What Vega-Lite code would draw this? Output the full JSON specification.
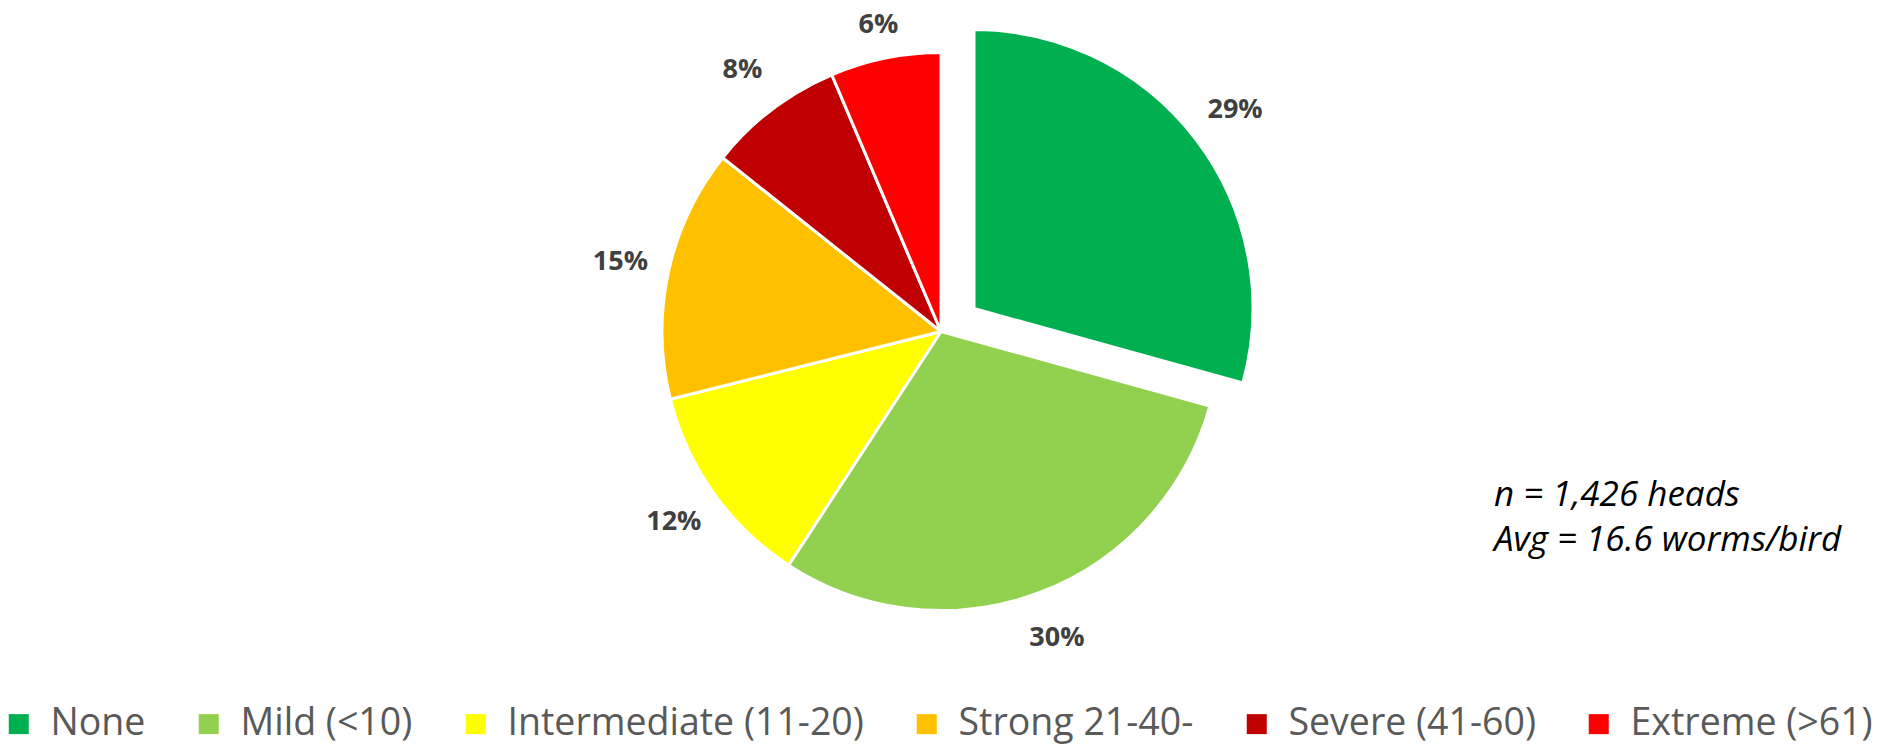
{
  "$schema": "https://vega.github.io/schema/vega-lite/v6.json",
  "width": 1903,
  "height": 745,
  "autosize": {"type": "fit", "contains": "padding"},
  "padding": {"left": 0, "right": 21, "top": 0, "bottom": 2},
  "background": "white",
  "config": {"view": {"stroke": null}, "font": "Open Sans"},
  "title": {
    "text": ["n = 1,426 heads", "Avg = 16.6 worms/bird"],
    "orient": "top",
    "anchor": "start",
    "frame": "group",
    "align": "left",
    "baseline": "alphabetic",
    "offset": 0,
    "dx": 1494,
    "dy": 613,
    "fontSize": 35,
    "fontStyle": "italic",
    "fontWeight": "normal",
    "font": "Open Sans",
    "color": "#000000",
    "lineHeight": 45
  },
  "data": {
    "values": [
      {"idx": 1, "category": "None", "share": 0.293},
      {"idx": 2, "category": "Mild (<10)", "share": 0.299},
      {"idx": 3, "category": "Intermediate (11-20)", "share": 0.119},
      {"idx": 4, "category": "Strong 21-40-", "share": 0.146},
      {"idx": 5, "category": "Severe (41-60)", "share": 0.079},
      {"idx": 6, "category": "Extreme (>61)", "share": 0.064}
    ]
  },
  "encoding": {
    "theta": {"field": "share", "type": "quantitative", "stack": true},
    "order": {"field": "idx", "type": "quantitative"},
    "color": {
      "field": "category",
      "type": "nominal",
      "sort": ["None", "Mild (<10)", "Intermediate (11-20)", "Strong 21-40-", "Severe (41-60)", "Extreme (>61)"],
      "scale": {
        "domain": ["None", "Mild (<10)", "Intermediate (11-20)", "Strong 21-40-", "Severe (41-60)", "Extreme (>61)"],
        "range": ["#00B050", "#92D050", "#FFFF00", "#FFC000", "#C00000", "#FF0000"]
      },
      "legend": {
        "orient": "bottom",
        "direction": "horizontal",
        "title": null,
        "symbolType": "square",
        "symbolSize": 400,
        "symbolStrokeWidth": 0,
        "symbolOpacity": 1,
        "labelFont": "Open Sans",
        "labelFontSize": 37.5,
        "labelColor": "#595959",
        "labelLimit": 700,
        "labelOffset": 13,
        "columnPadding": 44,
        "offset": 42
      }
    }
  },
  "layer": [
    {
      "mark": {"type": "arc", "outerRadius": 279, "stroke": "white", "strokeWidth": 3},
      "encoding": {
        "opacity": {"condition": {"test": "datum.category === 'None'", "value": 0}, "value": 1}
      }
    },
    {
      "mark": {"type": "arc", "outerRadius": 279, "stroke": "white", "strokeWidth": 3, "xOffset": 33, "yOffset": -23},
      "encoding": {
        "opacity": {"condition": {"test": "datum.category === 'None'", "value": 1}, "value": 0}
      }
    },
    {
      "mark": {"type": "text", "radius": 328, "fontSize": 27, "fontWeight": "bold", "font": "Open Sans"},
      "encoding": {
        "text": {"field": "share", "type": "quantitative", "format": ".0%"},
        "color": {"value": "#404040"},
        "opacity": {"condition": {"test": "datum.category === 'None' || datum.category === 'Extreme (>61)'", "value": 0}, "value": 1}
      }
    },
    {
      "mark": {"type": "text", "radius": 313, "fontSize": 27, "fontWeight": "bold", "font": "Open Sans"},
      "encoding": {
        "text": {"field": "share", "type": "quantitative", "format": ".0%"},
        "color": {"value": "#404040"},
        "opacity": {"condition": {"test": "datum.category === 'Extreme (>61)'", "value": 1}, "value": 0}
      }
    },
    {
      "mark": {"type": "text", "radius": 328, "fontSize": 27, "fontWeight": "bold", "font": "Open Sans", "xOffset": 33, "yOffset": -23},
      "encoding": {
        "text": {"field": "share", "type": "quantitative", "format": ".0%"},
        "color": {"value": "#404040"},
        "opacity": {"condition": {"test": "datum.category === 'None'", "value": 1}, "value": 0}
      }
    }
  ]
}
